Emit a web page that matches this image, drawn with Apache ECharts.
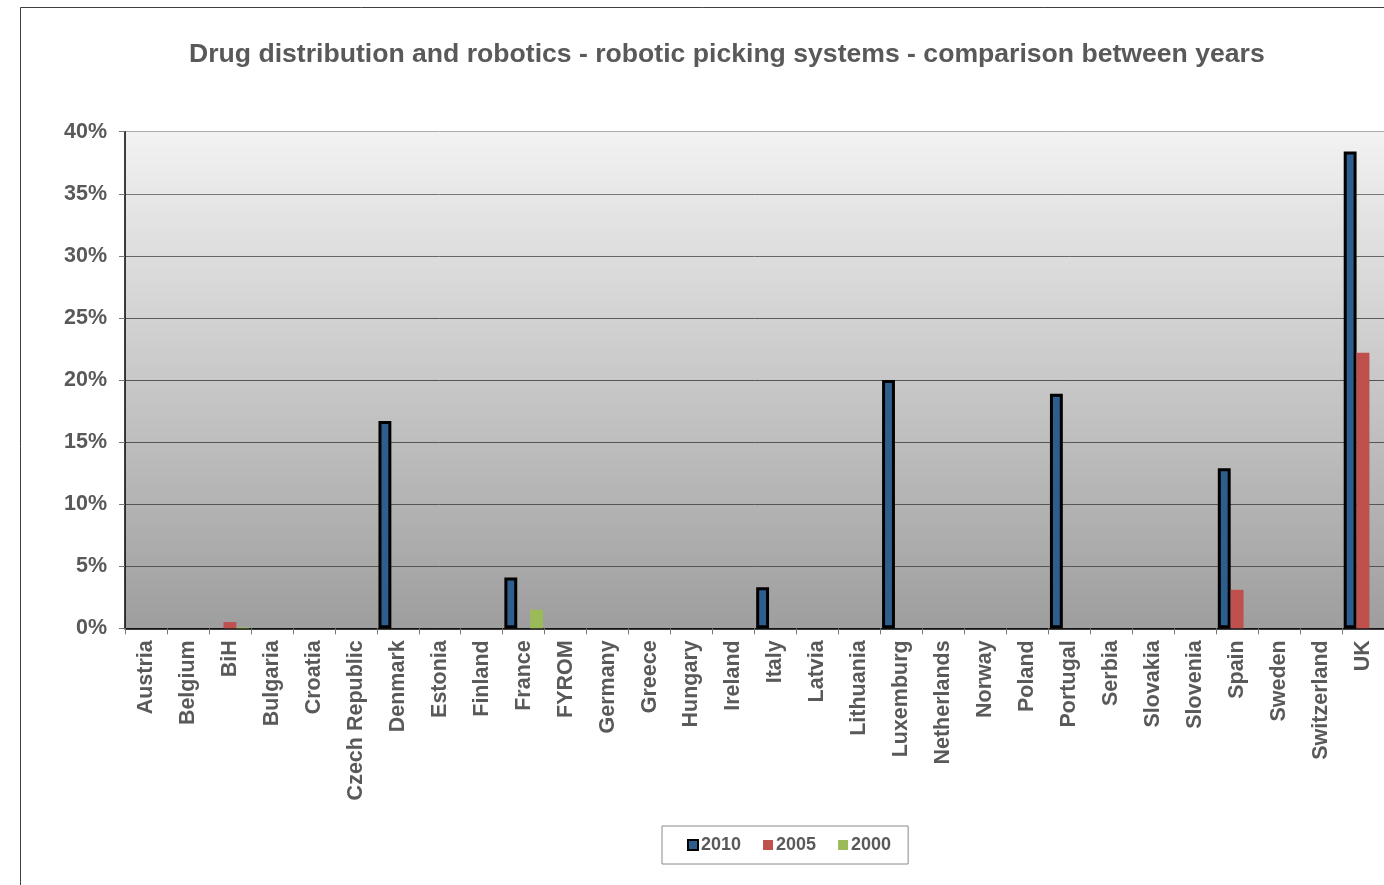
<!DOCTYPE html>
<html>
<head>
<meta charset="utf-8">
<script src="https://cdn.jsdelivr.net/npm/echarts@6/dist/echarts.min.js"></script>
<style>
html,body{margin:0;padding:0;background:#fff;}
#chart{width:1384px;height:885px;}
</style>
</head>
<body>
<div id="chart"></div>
<script>
const categories = ['Austria','Belgium','BiH','Bulgaria','Croatia','Czech Republic','Denmark','Estonia','Finland','France','FYROM','Germany','Greece','Hungary','Ireland','Italy','Latvia','Lithuania','Luxemburg','Netherlands','Norway','Poland','Portugal','Serbia','Slovakia','Slovenia','Spain','Sweden','Switzerland','UK'];
const values2010 = [0,0,0,0,0,0,16.7,0,0,4.1,0,0,0,0,0,3.3,0,0,20.0,0,0,0,18.9,0,0,0,12.9,0,0,38.4];
const values2005 = [0,0,0.5,0,0,0,0,0,0,0,0,0,0,0,0,0,0,0,0,0,0,0,0,0,0,0,3.1,0,0,22.2];
const values2000 = [0,0,0.08,0,0,0,0,0,0,1.5,0,0,0,0,0,0,0,0,0,0,0,0,0,0,0,0,0,0,0,0];
const yTicks = ['0%','5%','10%','15%','20%','25%','30%','35%','40%'];

const toData = arr => arr.map(v => v === 0 ? '-' : v);
const labelColor = '#595959';
const font = 'Liberation Sans, Arial, sans-serif';

const chart = echarts.init(document.getElementById('chart'), null, {renderer:'canvas'});
chart.setOption({
  animation: false,
  backgroundColor: '#ffffff',
  title: {
    text: 'Drug distribution and robotics - robotic picking systems - comparison between years',
    left: 189, top: 41, padding: 0,
    textStyle: {fontFamily: font, fontSize: 26.6, fontWeight: 'bold', color: labelColor}
  },
  graphic: [{
    type: 'rect', silent: true, z: -1,
    shape: {x: 20.5, y: 7.5, width: 1400, height: 900},
    style: {fill: 'none', stroke: '#404040', lineWidth: 1}
  }],
  legend: {
    left: 662, top: 826,
    padding: [10, 17, 10, 25],
    borderColor: '#8a8a8a', borderWidth: 1,
    itemWidth: 10, itemHeight: 10, itemGap: 22,
    textStyle: {fontFamily: font, fontSize: 18, fontWeight: 'bold', color: labelColor, padding: [0,0,0,-2]},
    data: [
      {name: '2010', icon: 'rect', itemStyle: {color: '#2d5e8e', borderColor: '#000', borderWidth: 2}},
      {name: '2005', icon: 'rect', itemStyle: {color: '#c0504d', borderWidth: 0}},
      {name: '2000', icon: 'rect', itemStyle: {color: '#9bbb59', borderWidth: 0}}
    ]
  },
  grid: {
    left: 125, top: 131.7, width: 1259, bottom: 256.7,
    show: true, borderWidth: 0,
    backgroundColor: new echarts.graphic.LinearGradient(0, 0, 0, 1, [
      {offset: 0, color: '#f2f2f2'},
      {offset: 1, color: '#9e9e9e'}
    ])
  },
  xAxis: {
    type: 'category',
    data: categories,
    axisLine: {lineStyle: {color: '#000', width: 1.5}},
    axisTick: {show: true, length: 6, lineStyle: {color: '#777'}},
    axisLabel: {rotate: 90, margin: 12, interval: 0, fontFamily: font, fontSize: 21.5, fontWeight: 'bold', color: labelColor}
  },
  yAxis: {
    type: 'value', min: 0, max: 40, interval: 5,
    axisLine: {show: true, lineStyle: {color: '#000', width: 1.5}},
    axisTick: {show: true, length: 6, lineStyle: {color: '#777'}},
    axisLabel: {
      margin: 18, fontFamily: font, fontSize: 21.5, fontWeight: 'bold', color: labelColor,
      formatter: (v) => yTicks[Math.round(v / 5)]
    },
    splitLine: {show: true, lineStyle: {color: ['#555','#555','#555','#555','#555','#5a5a5a','#666','#777','#aaaaaa'], width: 1}}
  },
  series: [
    {name: '2010', type: 'bar', data: toData(values2010), barGap: '0%', barCategoryGap: '8%',
     itemStyle: {color: '#2d5e8e', borderColor: '#000', borderWidth: 3}},
    {name: '2005', type: 'bar', data: toData(values2005), barGap: '0%', barCategoryGap: '8%',
     itemStyle: {color: '#c0504d'}},
    {name: '2000', type: 'bar', data: toData(values2000), barGap: '0%', barCategoryGap: '8%',
     itemStyle: {color: '#9bbb59'}}
  ]
});
</script>
</body>
</html>
